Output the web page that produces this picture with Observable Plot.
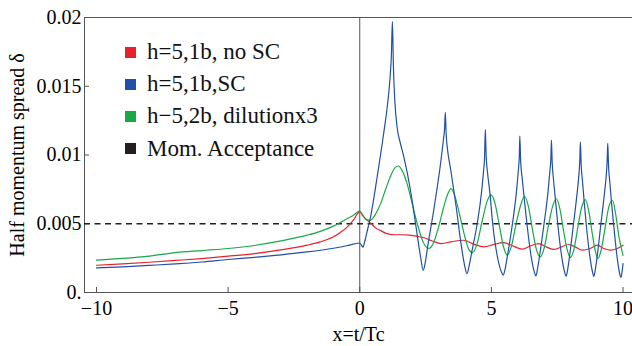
<!DOCTYPE html>
<html>
<head>
<meta charset="utf-8">
<script src="https://cdn.jsdelivr.net/npm/d3@7"></script>
<script src="https://cdn.jsdelivr.net/npm/@observablehq/plot@0.6"></script>
<style>
  html, body { margin: 0; padding: 0; background: white; }
  #wrap { position: relative; width: 632px; height: 346px; }
  #legend { position: absolute; left: 125px; top: 36px; font-family: "Liberation Serif", serif; font-size: 23px; color: #111; }
  .row { display: flex; align-items: center; height: 32.2px; }
  .sw { width: 11px; height: 11px; margin-right: 11px; }
</style>
</head>
<body>
<div id="wrap"><div id="legend"></div></div>
<script>
// ---- data ----
const seriesNames = ["h=5,1b, no SC", "h=5,1b,SC", "h\u22125,2b, dilutionx3", "Mom. Acceptance"];
const seriesColors = ["#e8202a", "#2150a6", "#18a848", "#231f20"];

const noSC = [[-10,0.00198],[-9,0.00208],[-8,0.0022],[-7,0.00233],[-6,0.00247],[-5,0.00264],[-4,0.00283],[-3,0.0031],[-2,0.00344],[-1.5,0.00368],[-1,0.00405],[-0.75,0.00435],[-0.5,0.00472],[-0.25,0.00525],[0,0.00586],[0.2,0.0054],[0.41,0.00506],[0.6,0.0047],[0.8,0.0045],[1.0,0.0043],[1.3,0.0042],[1.6,0.0042],[1.9,0.00417],[2.15,0.0041],[2.4,0.0040],[2.62,0.00385],[2.9,0.00364],[3.1,0.00356],[3.5,0.0037],[3.95,0.0038],[4.35,0.0035],[4.71,0.00332],[5.1,0.0035],[5.47,0.00363],[5.8,0.0034],[6.17,0.00315],[6.5,0.0034],[6.8,0.00356],[7.1,0.0033],[7.39,0.00313],[7.65,0.0033],[7.94,0.00349],[8.2,0.0033],[8.45,0.00308],[8.75,0.0032],[9.02,0.00344],[9.27,0.0032],[9.52,0.00308],[9.78,0.0032],[10,0.00344]];

const withSC = [[-10,0.00179],[-9,0.00187],[-8,0.00197],[-7,0.00208],[-6,0.00222],[-5,0.0024],[-4,0.00256],[-3,0.00274],[-2,0.00295],[-1,0.00322],[-0.5,0.0034],[0,0.0036],[0.06,0.00345],[0.12,0.0033],[0.2,0.0038],[0.3,0.0046],[0.41,0.0055],[0.66,0.0084],[0.91,0.0116],[1.05,0.0136],[1.15,0.0156],[1.2,0.0172],[1.24,0.0197],[1.28,0.0163],[1.33,0.0140],[1.42,0.0120],[1.55,0.0108],[1.67,0.0099],[1.93,0.0074],[2.12,0.005],[2.31,0.0026],[2.41,0.0016],[2.49,0.0022],[2.56,0.0031],[2.81,0.006],[3.07,0.0094],[3.17,0.0110],[3.22,0.0119],[3.25,0.0131],[3.28,0.0116],[3.34,0.0103],[3.45,0.0090],[3.65,0.0064],[3.85,0.0035],[3.99,0.0019],[4.07,0.00138],[4.15,0.0019],[4.25,0.0029],[4.46,0.005],[4.62,0.0072],[4.7,0.0088],[4.74,0.0098],[4.77,0.01185],[4.80,0.0100],[4.86,0.0086],[4.94,0.0073],[5.05,0.005],[5.25,0.0024],[5.38,0.0015],[5.45,0.00126],[5.52,0.0017],[5.62,0.0028],[5.8,0.005],[5.95,0.0073],[6.02,0.0088],[6.06,0.0099],[6.08,0.01137],[6.11,0.0096],[6.17,0.0083],[6.25,0.0068],[6.35,0.005],[6.52,0.0025],[6.63,0.0015],[6.69,0.00121],[6.75,0.0017],[6.84,0.0028],[7.0,0.005],[7.15,0.0073],[7.22,0.0088],[7.26,0.0098],[7.28,0.01108],[7.31,0.0094],[7.36,0.0082],[7.43,0.0068],[7.52,0.005],[7.68,0.0025],[7.78,0.0015],[7.84,0.00119],[7.9,0.0017],[7.98,0.0028],[8.12,0.005],[8.26,0.0073],[8.33,0.0087],[8.36,0.0097],[8.38,0.01095],[8.41,0.0093],[8.46,0.0081],[8.52,0.0067],[8.6,0.005],[8.75,0.0025],[8.84,0.0015],[8.89,0.00116],[8.95,0.0017],[9.03,0.0028],[9.16,0.005],[9.3,0.0073],[9.37,0.0087],[9.4,0.0097],[9.42,0.01084],[9.45,0.0092],[9.5,0.008],[9.56,0.0066],[9.64,0.005],[9.78,0.0025],[9.87,0.0014],[9.92,0.00109],[9.97,0.0016],[10,0.0021]];

const dilution = [[-10,0.00235],[-9,0.00248],[-8,0.00265],[-7,0.0029],[-6,0.00305],[-5,0.0032],[-4,0.00342],[-3,0.00375],[-2,0.00417],[-1.5,0.00445],[-1,0.00483],[-0.5,0.00535],[-0.25,0.0056],[0,0.00593],[0.1,0.0056],[0.25,0.0053],[0.4,0.00525],[0.6,0.0057],[0.8,0.0065],[1.0,0.0076],[1.2,0.0086],[1.35,0.0091],[1.47,0.0092],[1.6,0.0089],[1.8,0.0079],[2.0,0.0064],[2.2,0.0049],[2.4,0.0037],[2.62,0.0032],[2.8,0.0036],[3.0,0.0048],[3.2,0.0063],[3.35,0.0072],[3.47,0.00756],[3.6,0.0071],[3.8,0.0056],[4.0,0.0040],[4.15,0.0031],[4.28,0.0029],[4.45,0.0035],[4.65,0.0052],[4.85,0.0067],[4.99,0.0071],[5.12,0.0066],[5.3,0.0049],[5.45,0.0034],[5.6,0.00271],[5.75,0.0033],[5.95,0.0051],[6.12,0.0064],[6.26,0.0070],[6.4,0.0063],[6.55,0.0047],[6.7,0.0032],[6.86,0.00259],[7.0,0.0032],[7.18,0.0050],[7.33,0.0063],[7.47,0.00682],[7.6,0.0061],[7.75,0.0044],[7.88,0.0031],[8.0,0.00255],[8.13,0.0031],[8.28,0.0047],[8.43,0.0062],[8.57,0.00676],[8.7,0.0059],[8.83,0.0043],[8.95,0.0030],[9.05,0.00247],[9.17,0.0031],[9.32,0.0047],[9.47,0.0063],[9.6,0.00671],[9.72,0.0057],[9.85,0.0040],[10,0.0027]];

const momAcceptance = [0.005];
const xTicks = [-10, -5, 0, 5, 10];
const xTickLabels = ["\u221210", "\u22125", "0", "5", "10"];
const yTicks = [0, 0.005, 0.01, 0.015, 0.02];
const yTickLabels = ["0.", "0.005", "0.01", "0.015", "0.02"];
const xLabel = "x=t/Tc";
const yLabel = "Half momentum spread \u03b4";

// ---- legend (HTML overlay) ----
const leg = document.getElementById("legend");
seriesNames.forEach((n, i) => {
  const r = document.createElement("div"); r.className = "row";
  const s = document.createElement("div"); s.className = "sw"; s.style.background = seriesColors[i];
  const t = document.createElement("span"); t.textContent = n;
  r.appendChild(s); r.appendChild(t); leg.appendChild(r);
});

const frameColor = "#555";
const lineOpts = {x: d => d[0], y: d => d[1], curve: "monotone-x", strokeWidth: 1.2};

const chart = Plot.plot({
  width: 632, height: 346,
  marginLeft: 84, marginRight: 0, marginTop: 17, marginBottom: 54,
  x: {domain: [-10.456, 10.36]},
  y: {domain: [0, 0.02]},
  style: {fontFamily: "'Liberation Serif', serif", fontSize: "20px", background: "white", color: "black"},
  marks: [
    Plot.ruleY([0.02], {stroke: frameColor, strokeWidth: 1}),
    Plot.ruleY([0], {stroke: frameColor, strokeWidth: 1}),
    Plot.ruleX([-10.456], {stroke: frameColor, strokeWidth: 1}),
    Plot.axisX(xTicks, {tickSize: -5, tickPadding: 13, stroke: frameColor, fontSize: 20, fill: "black",
      tickFormat: d => xTickLabels[xTicks.indexOf(d)], label: null}),
    Plot.axisY(yTicks, {tickSize: -5, tickPadding: 8, stroke: frameColor, fontSize: 20, fill: "black",
      tickFormat: d => yTickLabels[yTicks.indexOf(d)], label: null}),
    Plot.ruleX([0], {stroke: "#555", strokeWidth: 1}),
    Plot.ruleY(momAcceptance, {stroke: seriesColors[3], strokeWidth: 1.3, strokeDasharray: "6,4.5"}),
    Plot.line(noSC, {...lineOpts, stroke: seriesColors[0]}),
    Plot.line(dilution, {...lineOpts, stroke: seriesColors[2]}),
    Plot.line(withSC, {...lineOpts, stroke: seriesColors[1]}),
    Plot.text([yLabel], {text: d => d, frameAnchor: "left", dx: -66.5, rotate: -90, textAnchor: "middle", lineAnchor: "middle", fontSize: 20, fill: "black"}),
    Plot.text([xLabel], {text: d => d, frameAnchor: "bottom", dy: 42, textAnchor: "middle", lineAnchor: "middle", fontSize: 20, fill: "black"})
  ]
});
document.getElementById("wrap").insertBefore(chart, document.getElementById("legend"));
</script>
</body>
</html>
